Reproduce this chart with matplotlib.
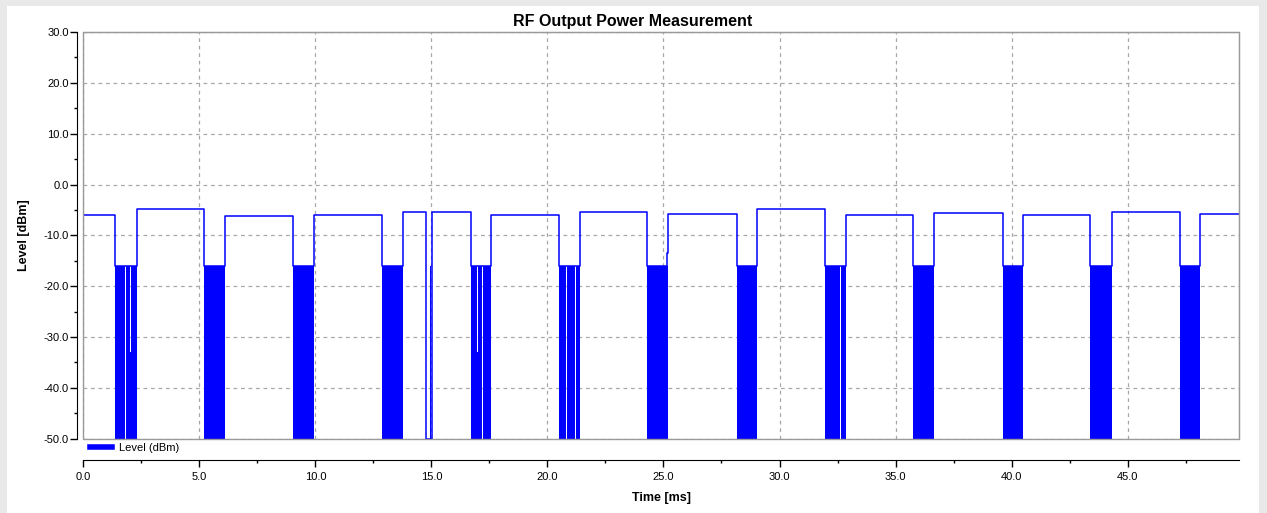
import matplotlib
matplotlib.use('agg')
import matplotlib.pyplot as plt
from matplotlib.patches import Rectangle
from matplotlib.ticker import MultipleLocator, FormatStrFormatter
import numpy as np

plt.rcParams['font.family'] = ['Liberation Sans', 'DejaVu Sans']

# envelope of the trace: segment edges (ms) and level of each segment (dBm)
seg_edges = [0.0, 1.37, 2.30, 5.22, 6.11, 9.05, 9.94, 12.86, 13.77, 14.77, 15.04,
             16.70, 17.57, 20.50, 21.41, 24.31, 25.17, 25.21, 28.16, 29.04, 31.94,
             32.88, 35.77, 36.67, 39.61, 40.50, 43.40, 44.34, 47.24, 48.13, 49.80]
seg_level = [-6.0, -16.0, -4.9, -16.0, -6.2, -16.0, -5.9, -16.0, -5.4, -50.0,
             -5.5, -16.0, -6.0, -16.0, -5.5, -16.0, -13.5, -5.8, -16.0, -4.75,
             -16.0, -6.0, -16.0, -5.65, -16.0, -5.9, -16.0, -5.4, -16.0, -5.8]

# dense spike bursts while the carrier is off (drawn as solid blocks)
burst_start = [1.37, 1.82, 2.01, 2.05, 5.22, 9.05, 12.86, 14.94, 16.70, 16.96, 17.00,
               17.23, 20.50, 20.85, 21.21, 24.31, 28.16, 31.94, 32.64, 35.77, 36.16,
               39.61, 43.40, 47.24]
burst_end = [1.78, 2.01, 2.05, 2.30, 6.11, 9.94, 13.77, 14.97, 16.96, 17.00, 17.19,
             17.57, 20.81, 21.17, 21.41, 25.21, 29.04, 32.60, 32.88, 36.12, 36.67,
             40.50, 44.34, 48.13]
burst_peak = [-16.0, -16.0, -33.0, -16.0, -16.0, -16.0, -16.0, -16.0, -16.0, -33.0, -16.0,
              -16.0, -16.0, -16.0, -16.0, -16.0, -16.0, -16.0, -16.0, -16.0, -16.0,
              -16.0, -16.0, -16.0]

y_floor = -50.0
blue = '#0000ff'

fig = plt.figure(figsize=(12.67, 5.13), dpi=100, facecolor='#e9e9e9')
# white chart panel on the grey window
fig.add_artist(Rectangle((7 / 1267, 0), 1252 / 1267, 507 / 513, transform=fig.transFigure,
                         facecolor='white', edgecolor='none', zorder=0))

ax = fig.add_axes([83.3 / 1267, 1 - 438.7 / 513, (1239 - 83.3) / 1267, (438.7 - 32) / 513])
ax.set_facecolor('white')

# bursts
bs = np.array(burst_start)
be = np.array(burst_end)
bp = np.array(burst_peak)
ax.bar(bs, bp - y_floor, width=be - bs, bottom=y_floor, align='edge',
       color=blue, linewidth=0, zorder=3)

# envelope line
t = np.array(seg_edges)
lv = np.array(seg_level + [seg_level[-1]])
ax.plot(t, lv, drawstyle='steps-post', color=blue, lw=1.1, zorder=4, label='Level (dBm)')

ax.set_xlim(0, 49.8)
ax.set_ylim(-50, 30)

ax.xaxis.set_major_locator(MultipleLocator(5))
ax.xaxis.set_minor_locator(MultipleLocator(2.5))
ax.yaxis.set_major_locator(MultipleLocator(10))
ax.yaxis.set_minor_locator(MultipleLocator(5))
ax.xaxis.set_major_formatter(FormatStrFormatter('%.1f'))
ax.yaxis.set_major_formatter(FormatStrFormatter('%.1f'))

ax.grid(True, which='major', color='#a8a8a8', linestyle=(0, (3, 3)), linewidth=0.9)
ax.set_axisbelow(True)

for s in ['top', 'right']:
    ax.spines[s].set_color('#9a9a9a')
ax.spines['left'].set_position(('outward', 4.4))
ax.spines['bottom'].set_position(('outward', 15.3))
ax.spines['left'].set_color('black')
ax.spines['bottom'].set_color('black')
# grey frame of the plot box
ax.add_patch(Rectangle((0, 0), 1, 1, transform=ax.transAxes, fill=False,
                       edgecolor='#9a9a9a', linewidth=1.0, zorder=5, clip_on=False))

ax.tick_params(axis='both', which='major', length=5, width=1, labelsize=8)
ax.tick_params(axis='both', which='minor', length=2.3, width=1)
ax.tick_params(axis='x', pad=4)
ax.tick_params(axis='y', pad=1)

ax.set_title('RF Output Power Measurement', fontsize=11.5, fontweight='bold',
             pad=0, x=0.4757, y=1.027, va='center')
ax.set_xlabel('Time [ms]', fontsize=9, fontweight='bold', va='center')
ax.xaxis.set_label_coords(0.5, -0.145)
ax.set_ylabel('Level [dBm]', fontsize=9, fontweight='bold', va='center')
ax.yaxis.set_label_coords(-0.0513, 0.5)

leg = ax.legend(loc='upper left', bbox_to_anchor=(0.004, -0.004), bbox_transform=ax.transAxes,
                frameon=False, borderaxespad=0, borderpad=0.2, handlelength=2.0,
                handletextpad=0.6, fontsize=8)
leg.get_lines()[0].set_linewidth(4)

fig.savefig('out.png', dpi=100, facecolor=fig.get_facecolor())
